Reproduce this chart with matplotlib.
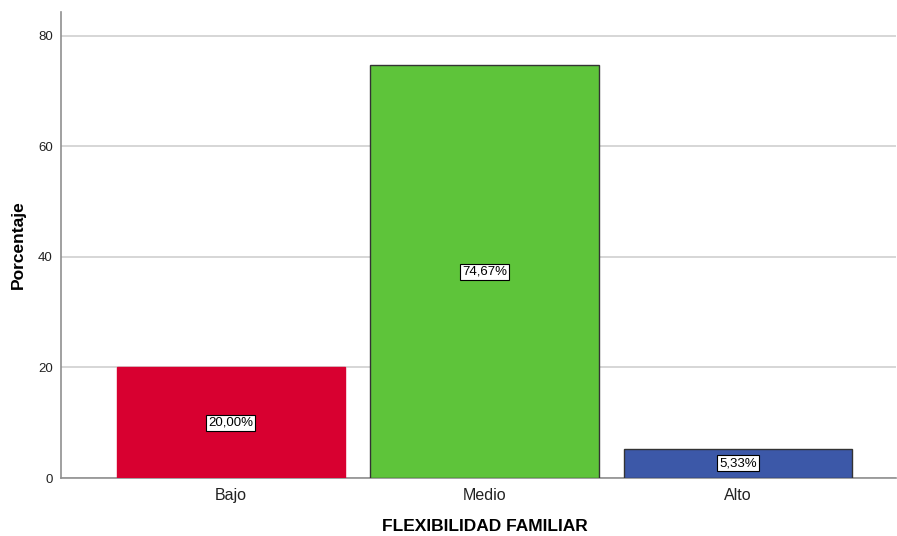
import matplotlib
matplotlib.use("Agg")
import matplotlib.pyplot as plt

plt.rcParams['font.family'] = ['Liberation Sans', 'DejaVu Sans']

# datos
categorias = ["Bajo", "Medio", "Alto"]
porcentajes = [20.00, 74.67, 5.33]
etiquetas = ["20,00%", "74,67%", "5,33%"]
colores = ["#d80030", "#5ec43a", "#3c58a8"]
bordes = ["#d80030", "#333333", "#333333"]

fig = plt.figure(figsize=(8.97, 5.36), dpi=100)
ax = fig.add_axes([0.068, 0.108, 0.931, 0.870])

x = range(len(categorias))
ax.bar(x, porcentajes, width=0.9, color=colores, edgecolor=bordes, linewidth=1.0, zorder=3)

for i, v in enumerate(porcentajes):
    ax.text(i, v / 2, etiquetas[i], ha="center", va="center", fontsize=9.5, zorder=4,
            bbox=dict(boxstyle="square,pad=0.15", facecolor="white", edgecolor="black", linewidth=0.8))

ax.set_xlim(-0.67, 2.623)
ax.set_ylim(0, 84.3)
ax.set_yticks([0, 20, 40, 60, 80])
ax.set_xticks(list(x))
ax.set_xticklabels(categorias)
ax.yaxis.grid(True, color="#d0d0d0", linewidth=1.2, zorder=0)
ax.set_axisbelow(True)

for s in ["top", "right"]:
    ax.spines[s].set_visible(False)
ax.spines["left"].set_color("#909090")
ax.spines["bottom"].set_color("#909090")
ax.spines["left"].set_linewidth(1.2)
ax.spines["bottom"].set_linewidth(1.2)
ax.tick_params(axis="both", length=0, colors="#222222")
ax.tick_params(axis="x", pad=7, labelsize=11.5)
ax.tick_params(axis="y", pad=6, labelsize=9.5)

ax.set_ylabel("Porcentaje", fontsize=12.5, fontweight="bold", labelpad=9)
ax.set_xlabel("FLEXIBILIDAD FAMILIAR", fontsize=12.5, fontweight="bold")
ax.xaxis.set_label_coords(0.507, -0.087)

fig.savefig("out.png", dpi=100)
